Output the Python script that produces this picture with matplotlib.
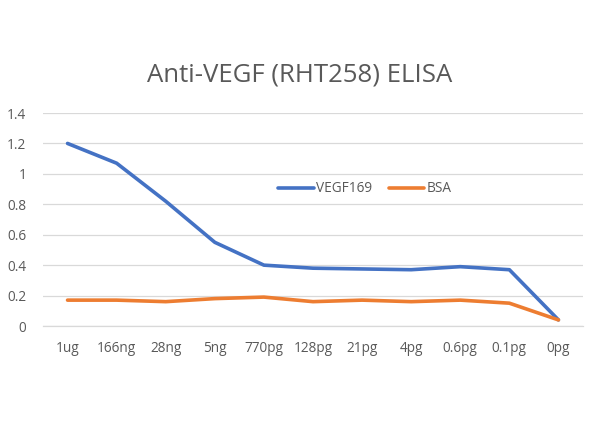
import matplotlib as mpl

mpl.use("Agg")
import matplotlib.pyplot as plt

categories = ["1ug", "166ng", "28ng", "5ng", "770pg", "128pg", "21pg", "4pg", "0.6pg", "0.1pg", "0pg"]
vegf169 = [1.20, 1.07, 0.82, 0.55, 0.40, 0.38, 0.375, 0.37, 0.39, 0.37, 0.04]
bsa = [0.17, 0.17, 0.16, 0.18, 0.19, 0.16, 0.17, 0.16, 0.17, 0.15, 0.04]
yticks = [0, 0.2, 0.4, 0.6, 0.8, 1.0, 1.2, 1.4]
ytick_labels = ["0", "0.2", "0.4", "0.6", "0.8", "1", "1.2", "1.4"]

text_color = "#595959"
plt.rcParams["font.family"] = ["Open Sans", "DejaVu Sans"]

fig = plt.figure(figsize=(6.0, 4.47), dpi=100)
ax = fig.add_axes([43 / 600, 1 - 326 / 447, 540 / 600, 213 / 447])

x = range(len(categories))
ax.plot(x, vegf169, color="#4472C4", lw=2.6, solid_joinstyle="round", solid_capstyle="round", label="VEGF169")
ax.plot(x, bsa, color="#ED7D31", lw=2.6, solid_joinstyle="round", solid_capstyle="round", label="BSA")

ax.set_xlim(-0.5, len(categories) - 0.5)
ax.set_ylim(0, 1.4)
ax.set_xticks(list(x))
ax.set_xticklabels(categories)
ax.set_yticks(yticks)
ax.set_yticklabels(ytick_labels)
ax.tick_params(axis="both", length=0, labelsize=9.8, labelcolor=text_color)
ax.tick_params(axis="x", pad=11)
ax.tick_params(axis="y", pad=12)
ax.grid(axis="y", color="#D9D9D9", lw=0.9)
ax.set_axisbelow(True)
for side in ["top", "right", "left"]:
    ax.spines[side].set_visible(False)
ax.spines["bottom"].set_color("#D9D9D9")
ax.spines["bottom"].set_linewidth(0.9)
for lab in ax.get_yticklabels():
    lab.set_horizontalalignment("right")

fig.text(0.5, 1 - 75 / 447, "Anti-VEGF (RHT258) ELISA", ha="center", va="center", fontsize=18.5, color=text_color)

ax.legend(
    loc="center",
    bbox_to_anchor=(365 / 600, 1 - 189 / 447),
    bbox_transform=fig.transFigure,
    ncol=2,
    frameon=False,
    fontsize=9.8,
    labelcolor=text_color,
    handlelength=2.6,
    handletextpad=0.2,
    columnspacing=1.2,
)

fig.savefig("out.png", dpi=100)
